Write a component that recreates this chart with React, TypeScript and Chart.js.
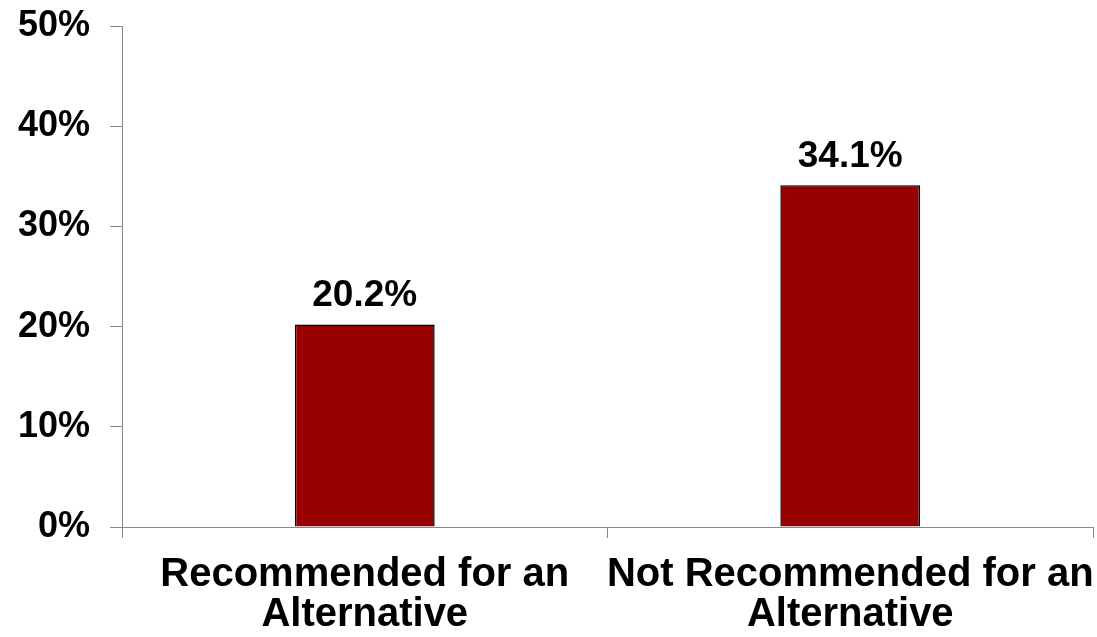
import React, { useEffect, useRef } from "react";
import { Chart, registerables } from "chart.js";

Chart.register(...registerables);

const categories: string[][] = [
  ["Recommended for an", "Alternative"],
  ["Not Recommended for an", "Alternative"],
];
const values: number[] = [20.2, 34.1];
const valueLabels: string[] = ["20.2%", "34.1%"];
const yTicks: number[] = [0, 10, 20, 30, 40, 50];

const FONT = "'Liberation Sans', Arial, Helvetica, sans-serif";

const dataLabelPlugin = {
  id: "dataLabels",
  afterDatasetsDraw(chart: any) {
    const ctx = chart.ctx;
    const meta = chart.getDatasetMeta(0);
    ctx.save();
    ctx.font = `bold 37px ${FONT}`;
    ctx.fillStyle = "#000";
    ctx.textAlign = "center";
    ctx.textBaseline = "alphabetic";
    meta.data.forEach((bar: any, i: number) => {
      ctx.fillText(valueLabels[i], bar.x, bar.y - 18.5);
    });
    ctx.restore();
  },
};

const zeroPadding = (s: any) => {
  s.paddingTop = 0;
  s.paddingBottom = 0;
  s.paddingLeft = 0;
  s.paddingRight = 0;
};

export default function App() {
  const ref = useRef<HTMLCanvasElement | null>(null);
  useEffect(() => {
    document.body.style.margin = "0";
    const chart = new Chart(ref.current as HTMLCanvasElement, {
      type: "bar",
      data: {
        labels: categories,
        datasets: [
          {
            data: values,
            backgroundColor: "#990000",
            borderColor: "#000",
            borderWidth: 1.5,
            borderSkipped: "bottom",
            categoryPercentage: 0.288,
            barPercentage: 1,
          },
        ],
      },
      options: {
        animation: false,
        responsive: true,
        maintainAspectRatio: false,
        devicePixelRatio: 1,
        layout: { padding: { top: 26, right: 4, left: 0, bottom: 0 } },
        plugins: {
          legend: { display: false },
          tooltip: { enabled: false },
        },
        scales: {
          x: {
            afterFit: (s: any) => {
              s.height = 110;
              zeroPadding(s);
            },
            grid: {
              offset: true,
              drawOnChartArea: false,
              color: "#888",
              tickLength: 11,
            },
            border: { color: "#888", width: 1 },
            ticks: {
              color: "#000",
              padding: 17,
              maxRotation: 0,
              autoSkip: false,
              font: { family: FONT, size: 40, weight: "bold", lineHeight: 1 },
            },
          },
          y: {
            min: 0,
            max: 50,
            afterFit: (s: any) => {
              s.width = 122;
              zeroPadding(s);
            },
            afterBuildTicks: (s: any) => {
              s.ticks = yTicks.map((v) => ({ value: v }));
            },
            grid: {
              drawOnChartArea: false,
              color: "#888",
              tickLength: 12,
            },
            border: { color: "#888", width: 1 },
            ticks: {
              color: "#000",
              padding: 20,
              stepSize: 10,
              callback: (v: any) => `${v}%`,
              font: { family: FONT, size: 36, weight: "bold" },
            },
          },
        },
      },
      plugins: [dataLabelPlugin],
    } as any);
    return () => chart.destroy();
  }, []);
  return (
    <div style={{ position: "absolute", left: 0, top: 0, width: 1097, height: 637 }}>
      <canvas ref={ref} />
    </div>
  );
}
